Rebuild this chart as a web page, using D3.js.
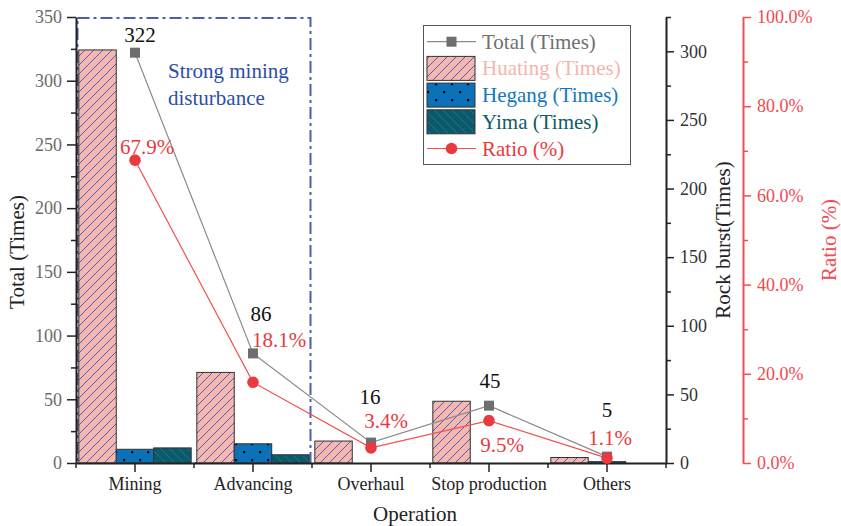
<!DOCTYPE html>
<html><head><meta charset="utf-8">
<script src="https://cdn.jsdelivr.net/npm/d3@7"></script>
<style>body{margin:0;background:#fff} svg, svg text{font-family:"Liberation Serif","Times New Roman",serif !important}</style>
</head><body><svg id="c" width="841" height="526" font-family="Liberation Serif"></svg>
<script>
// ---- data ----
const categories = ["Mining", "Advancing", "Overhaul", "Stop production", "Others"];
const totalTimes = [322, 86, 16, 45, 5];
const huatingTimes = [301, 66, 16, 45, 4];
const hegangTimes = [10, 14, 0, 0, 1];
const yimaTimes = [11, 6, 0, 0, 0];
const ratioPct = [67.9, 18.1, 3.4, 9.5, 1.1];
const leftTicks = [0, 50, 100, 150, 200, 250, 300, 350];
const rightTicks = [0, 50, 100, 150, 200, 250, 300];
const ratioTicks = [0, 20, 40, 60, 80, 100];
const seriesNames = ["Huating", "Hegang", "Yima"];

// ---- layout (label nudges, not data) ----
const totalNudge = [[5, -11], [8, -32], [-1, -39], [1, -18], [0, -40]];
const ratioNudge = [[12, -6], [26, -35], [15, -20], [13, 31], [3, -13]];

const svg = d3.select("#c");
const X0 = 76, X1 = 666, Y0 = 463, Y1 = 17;
const x = d3.scaleBand().domain(categories).range([X0, X1]).padding(0);
const sub = d3.scaleBand().domain(seriesNames).range([0, x.bandwidth()]).paddingInner(0).paddingOuter(0.075);
const yL = d3.scaleLinear().domain([0, 350]).range([Y0, Y1]);
const yR = d3.scaleLinear().domain([0, 325]).range([Y0, Y1]);
const yP = d3.scaleLinear().domain([0, 100]).range([Y0, Y1]);

const C = {
  huatFill: "#f5b7ae", huatHatch: "#3153c4",
  hegFill: "#0b72b9", yimaFill: "#0b5a68", yimaHatch: "#2a6db0",
  total: "#6e6e70", totalLine: "#8a8a8a", ratio: "#ea3a40", ratioLine: "#f25050",
  box: "#4a5eb2", boxText: "#2c4ea8", axis: "#222"
};

// ---- patterns ----
const defs = svg.append("defs");
const ph = defs.append("pattern").attr("id", "pHuat").attr("patternUnits", "userSpaceOnUse").attr("width", 9).attr("height", 9);
ph.append("rect").attr("width", 9).attr("height", 9).attr("fill", C.huatFill);
ph.append("path").attr("d", "M-1,10 L10,-1 M-1,1 L1,-1 M8,10 L10,8").attr("stroke", C.huatHatch).attr("stroke-width", 0.9);
const pg = defs.append("pattern").attr("id", "pHeg").attr("patternUnits", "userSpaceOnUse").attr("width", 16).attr("height", 16);
pg.append("rect").attr("width", 16).attr("height", 16).attr("fill", C.hegFill);
pg.append("rect").attr("x", 3).attr("y", 3).attr("width", 2.2).attr("height", 2.2).attr("fill", "#000");
pg.append("rect").attr("x", 11).attr("y", 11).attr("width", 2.2).attr("height", 2.2).attr("fill", "#000");
const py = defs.append("pattern").attr("id", "pYima").attr("patternUnits", "userSpaceOnUse").attr("width", 9).attr("height", 9);
py.append("rect").attr("width", 9).attr("height", 9).attr("fill", C.yimaFill);
py.append("path").attr("d", "M-1,-1 L10,10 M8,-1 L10,1 M-1,8 L1,10").attr("stroke", C.yimaHatch).attr("stroke-width", 0.9);
const fills = { Huating: "url(#pHuat)", Hegang: "url(#pHeg)", Yima: "url(#pYima)" };

// ---- dash-dot box ----
svg.append("rect")
  .attr("x", x("Mining") + 1.5).attr("y", yL(350) + 1)
  .attr("width", x("Advancing") + x.bandwidth() - x("Mining") - 3)
  .attr("height", yL(0) - yL(350) - 1)
  .attr("fill", "none").attr("stroke", C.box).attr("stroke-width", 2)
  .attr("stroke-dasharray", "12,4,3,4");
svg.append("text").attr("x", 168).attr("y", 78).attr("font-size", 21).attr("fill", C.boxText).text("Strong mining");
svg.append("text").attr("x", 168).attr("y", 105).attr("font-size", 21).attr("fill", C.boxText).text("disturbance");

// ---- bars ----
const barData = [];
categories.forEach((c, i) => {
  [["Huating", huatingTimes[i]], ["Hegang", hegangTimes[i]], ["Yima", yimaTimes[i]]].forEach(([s, v]) => {
    if (v > 0) barData.push({ c, s, v });
  });
});
svg.append("g").selectAll("rect").data(barData).join("rect")
  .attr("x", d => x(d.c) + sub(d.s))
  .attr("y", d => yR(d.v))
  .attr("width", sub.bandwidth())
  .attr("height", d => yR(0) - yR(d.v))
  .attr("fill", d => fills[d.s])
  .attr("stroke", "#333").attr("stroke-width", 1);

// ---- axes ----
function styleAxis(g, color, w) {
  g.attr("font-family", "Liberation Serif");
  g.select(".domain").attr("stroke", color).attr("stroke-width", w);
  g.selectAll(".tick line").attr("stroke", color).attr("stroke-width", 1.5);
}
// left
const gL = svg.append("g").attr("transform", `translate(${X0},0)`)
  .call(d3.axisLeft(yL).tickValues(leftTicks).tickSize(9).tickPadding(5).tickSizeOuter(0));
styleAxis(gL, C.axis, 2);
gL.selectAll("text").attr("font-size", 18).attr("fill", "#6a6a6a").attr("font-family", "Liberation Serif");
svg.append("g").attr("transform", `translate(${X0},0)`)
  .call(d3.axisLeft(yL).tickValues(d3.range(25, 350, 50)).tickSize(5).tickFormat("").tickSizeOuter(0))
  .call(g => { g.select(".domain").remove(); g.selectAll("line").attr("stroke", C.axis).attr("stroke-width", 1.5); });

// right (rock burst)
const gR = svg.append("g").attr("transform", `translate(${X1},0)`)
  .call(d3.axisRight(yR).tickValues(rightTicks).tickSize(8).tickPadding(6).tickSizeOuter(0));
styleAxis(gR, C.axis, 2);
gR.selectAll("text").attr("font-size", 18).attr("fill", "#333").attr("font-family", "Liberation Serif");
svg.append("g").attr("transform", `translate(${X1},0)`)
  .call(d3.axisRight(yR).tickValues(d3.range(25, 326, 50)).tickSize(5).tickFormat("").tickSizeOuter(0))
  .call(g => { g.select(".domain").remove(); g.selectAll("line").attr("stroke", C.axis).attr("stroke-width", 1.5); });

// ratio axis
const XP = 743;
const gP = svg.append("g").attr("transform", `translate(${XP},0)`)
  .call(d3.axisRight(yP).tickValues(ratioTicks).tickSize(8).tickPadding(6).tickSizeOuter(0)
    .tickFormat(d => d.toFixed(1) + "%"));
styleAxis(gP, C.ratioLine, 2);
gP.selectAll("text").attr("font-size", 18).attr("fill", "#ee4a50").attr("font-family", "Liberation Serif");
svg.append("g").attr("transform", `translate(${XP},0)`)
  .call(d3.axisRight(yP).tickValues(d3.range(10, 100, 20)).tickSize(5).tickFormat("").tickSizeOuter(0))
  .call(g => { g.select(".domain").remove(); g.selectAll("line").attr("stroke", C.ratioLine).attr("stroke-width", 1.5); });

// bottom
const gB = svg.append("g").attr("transform", `translate(0,${Y0})`)
  .call(d3.axisBottom(x).tickSize(9).tickPadding(5).tickSizeOuter(0));
styleAxis(gB, C.axis, 2);
gB.selectAll("text").attr("font-size", 18).attr("fill", "#222").attr("font-family", "Liberation Serif");
svg.append("g").attr("transform", `translate(0,${Y0})`).selectAll("line")
  .data(categories.map(c => x(c)).concat([X1])).join("line")
  .attr("x1", d => d).attr("x2", d => d).attr("y1", 0).attr("y2", 5)
  .attr("stroke", C.axis).attr("stroke-width", 1.5);

// axis titles
svg.append("text").attr("transform", "translate(24,252) rotate(-90)").attr("text-anchor", "middle")
  .attr("font-size", 21).attr("fill", "#222").text("Total (Times)");
svg.append("text").attr("transform", "translate(730,240) rotate(-90)").attr("text-anchor", "middle")
  .attr("font-size", 21).attr("fill", "#222").text("Rock burst(Times)");
svg.append("text").attr("transform", "translate(836,240) rotate(-90)").attr("text-anchor", "middle")
  .attr("font-size", 21).attr("fill", "#ee4a50").text("Ratio (%)");
svg.append("text").attr("x", 415).attr("y", 521).attr("text-anchor", "middle")
  .attr("font-size", 21).attr("fill", "#222").text("Operation");

// ---- lines ----
const cx = c => x(c) + x.bandwidth() / 2;
const totalPts = categories.map((c, i) => ({ c, v: totalTimes[i], i }));
const ratioPts = categories.map((c, i) => ({ c, v: ratioPct[i], i }));
svg.append("path").datum(totalPts)
  .attr("d", d3.line().x(d => cx(d.c)).y(d => yL(d.v)))
  .attr("fill", "none").attr("stroke", C.totalLine).attr("stroke-width", 1.2);
svg.append("path").datum(ratioPts)
  .attr("d", d3.line().x(d => cx(d.c)).y(d => yP(d.v)))
  .attr("fill", "none").attr("stroke", C.ratioLine).attr("stroke-width", 1.2);
svg.append("g").selectAll("rect").data(totalPts).join("rect")
  .attr("x", d => cx(d.c) - 5).attr("y", d => yL(d.v) - 5).attr("width", 10).attr("height", 10)
  .attr("fill", C.total);
svg.append("g").selectAll("circle").data(ratioPts).join("circle")
  .attr("cx", d => cx(d.c)).attr("cy", d => yP(d.v)).attr("r", 5.8).attr("fill", C.ratio);

// value labels
svg.append("g").selectAll("text").data(totalPts).join("text")
  .attr("x", d => cx(d.c) + totalNudge[d.i][0]).attr("y", d => yL(d.v) + totalNudge[d.i][1])
  .attr("text-anchor", "middle").attr("font-size", 21).attr("fill", "#111").text(d => d.v);
svg.append("g").selectAll("text").data(ratioPts).join("text")
  .attr("x", d => cx(d.c) + ratioNudge[d.i][0]).attr("y", d => yP(d.v) + ratioNudge[d.i][1])
  .attr("text-anchor", "middle").attr("font-size", 21).attr("fill", C.ratio).text(d => d.v.toFixed(1) + "%");

// ---- legend ----
const lg = svg.append("g");
lg.append("rect").attr("x", 423.5).attr("y", 25.5).attr("width", 207).attr("height", 139)
  .attr("fill", "#fff").attr("stroke", "#555").attr("stroke-width", 1);
const legendItems = [
  { name: "Total (Times)", kind: "total", color: "#707070" },
  { name: "Huating (Times)", kind: "Huating", color: "#f5b5ad" },
  { name: "Hegang (Times)", kind: "Hegang", color: "#1477bf" },
  { name: "Yima (Times)", kind: "Yima", color: "#0f5c66" },
  { name: "Ratio (%)", kind: "ratio", color: C.ratio }
];
legendItems.forEach((it, i) => {
  const yc = 41.7 + i * 26.7;
  if (it.kind === "total") {
    lg.append("line").attr("x1", 427).attr("x2", 476).attr("y1", yc).attr("y2", yc).attr("stroke", C.totalLine).attr("stroke-width", 1.2);
    lg.append("rect").attr("x", 446.5).attr("y", yc - 5).attr("width", 10).attr("height", 10).attr("fill", C.total);
  } else if (it.kind === "ratio") {
    lg.append("line").attr("x1", 427).attr("x2", 476).attr("y1", yc).attr("y2", yc).attr("stroke", C.ratioLine).attr("stroke-width", 1.2);
    lg.append("circle").attr("cx", 451.5).attr("cy", yc).attr("r", 5.8).attr("fill", C.ratio);
  } else {
    lg.append("rect").attr("x", 427).attr("y", yc - 12).attr("width", 48).attr("height", 24)
      .attr("fill", fills[it.kind]).attr("stroke", "#333").attr("stroke-width", 1);
  }
  lg.append("text").attr("x", 482).attr("y", yc + 7).attr("font-size", 21).attr("fill", it.color).text(it.name);
});
</script></body></html>
